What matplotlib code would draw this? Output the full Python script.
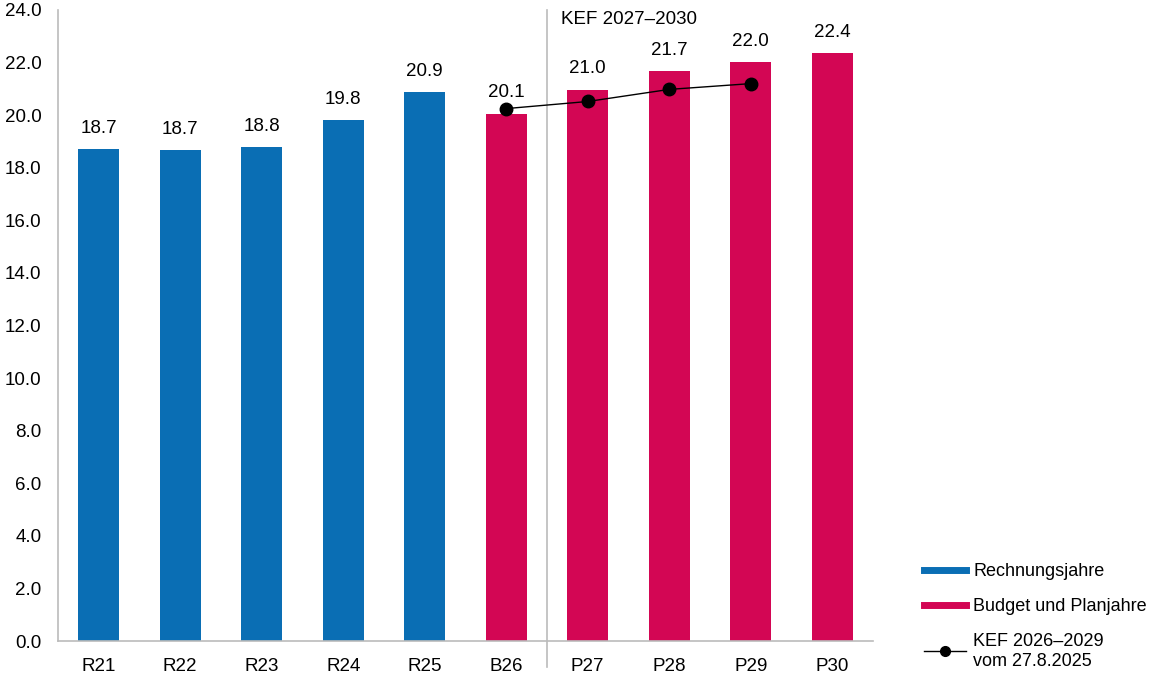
#!/usr/bin/env python3

import numpy
from matplotlib import pyplot
from matplotlib.lines import Line2D

CATEGORIES = ["R21", "R22", "R23", "R24", "R25", "B26", "P27", "P28", "P29", "P30"]
BAR_VALUES = [18.7, 18.66, 18.78, 19.8, 20.87, 20.05, 20.97, 21.67, 22.01, 22.35]
BAR_LABELS = ["18.7", "18.7", "18.8", "19.8", "20.9", "20.1", "21.0", "21.7", "22.0", "22.4"]
N_ACTUAL = 5  # first five are Rechnungsjahre
KEF_CATS = ["B26", "P27", "P28", "P29"]
KEF_VALUES = [20.25, 20.52, 20.98, 21.2]

BLUE = "#0A6EB4"
RED = "#D30654"
GREY = "#BBBBBB"
FS = 13.5

pyplot.rcParams["font.family"] = ["Liberation Sans", "DejaVu Sans"]
pyplot.rcParams["font.size"] = FS


def main():
	fig = pyplot.figure(figsize = (11.52, 6.75), dpi = 100)
	ax = fig.add_axes([58 / 1152, 1 - 641 / 675, 815 / 1152, 631 / 675])
	x = numpy.arange(len(CATEGORIES))
	colors = [BLUE if i < N_ACTUAL else RED for i in range(len(CATEGORIES))]
	ax.bar(x, BAR_VALUES, width = 0.5, color = colors, zorder = 2)
	for xi, v, lab in zip(x, BAR_VALUES, BAR_LABELS):
		ax.annotate(lab, (xi, v), xytext = (0, 9), textcoords = "offset points",
			ha = "center", va = "bottom", fontsize = FS)
	kx = [CATEGORIES.index(c) for c in KEF_CATS]
	ax.plot(kx, KEF_VALUES, color = "black", linewidth = 1.0, marker = "o",
		markersize = 9, zorder = 3)
	# separator between budget and plan years
	ax.plot([5.5, 5.5], [-1.0, 24], color = GREY, linewidth = 1.2, clip_on = False, zorder = 1)
	ax.text(5.67, 23.65, "KEF 2027–2030", ha = "left", va = "center", fontsize = FS)
	ax.set_xlim(-0.5, len(CATEGORIES) - 0.5)
	ax.set_ylim(0, 24)
	ax.set_yticks(numpy.arange(0, 24.1, 2))
	ax.set_yticklabels(["%.1f" % v for v in numpy.arange(0, 24.1, 2)])
	ax.set_xticks(x)
	ax.set_xticklabels(CATEGORIES)
	ax.tick_params(length = 0, labelsize = FS)
	ax.tick_params(axis = "x", pad = 12)
	ax.tick_params(axis = "y", pad = 12)
	for side in ("top", "right"):
		ax.spines[side].set_visible(False)
	for side in ("left", "bottom"):
		ax.spines[side].set_color(GREY)
		ax.spines[side].set_linewidth(1.2)
	handles = [
		Line2D([], [], color = BLUE, linewidth = 5),
		Line2D([], [], color = RED, linewidth = 5),
		Line2D([], [], color = "black", linewidth = 1.0, marker = "o", markersize = 7),
	]
	labels = ["Rechnungsjahre", "Budget und Planjahre", "KEF 2026–2029\nvom 27.8.2025"]
	fig.legend(handles, labels, loc = "lower left", bbox_to_anchor = (919 / 1152, 0.0),
		frameon = False, fontsize = 13, handlelength = 2.3, handletextpad = 0.4,
		labelspacing = 1.0, borderaxespad = 0.0, borderpad = 0.3)
	fig.savefig("out.png", dpi = 100)
	pyplot.close(fig)


if __name__ == "__main__":
	main()
